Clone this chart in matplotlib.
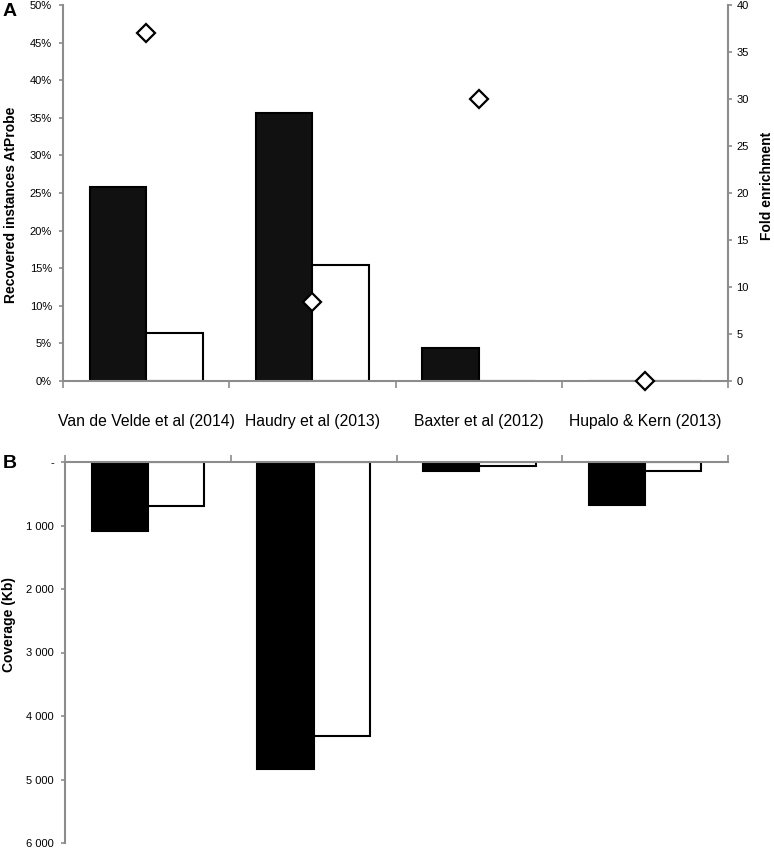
import numpy as np
import matplotlib
matplotlib.use("Agg")
import matplotlib.pyplot as plt
from matplotlib.ticker import FuncFormatter, MultipleLocator

plt.rcParams["font.family"] = ["Liberation Sans", "DejaVu Sans"]

studies = [
    "Van de Velde et al (2014)",
    "Haudry et al (2013)",
    "Baxter et al (2012)",
    "Hupalo & Kern (2013)",
]
# panel A: recovered instances (%), black and white series
recovered_black = [25.8, 35.6, 4.4, 0.0]
recovered_white = [6.4, 15.4, 0.0, 0.0]
fold_enrichment = [37.0, 8.4, 30.0, 0.0]
# panel B: coverage (Kb)
coverage_black = [1080, 4830, 140, 670]
coverage_white = [690, 4310, 60, 140]

GREY = "#8c8c8c"
W = 0.34
x = np.arange(len(studies))

fig = plt.figure(figsize=(7.74, 8.5), dpi=100)
W_FIG, H_FIG = 774.0, 850.0


def px_axes(left, top, right, bottom):
    return fig.add_axes([left / W_FIG, 1 - bottom / H_FIG,
                         (right - left) / W_FIG, (bottom - top) / H_FIG])


def style_spines(ax, keep):
    for name, sp in ax.spines.items():
        if name in keep:
            sp.set_color(GREY)
            sp.set_linewidth(1.5)
        else:
            sp.set_visible(False)


# ---- panel A ----
axA = px_axes(63, 5, 728, 381)
axA.bar(x - W / 2, recovered_black, W, color="#111111", edgecolor="black", linewidth=1.5)
axA.bar(x + W / 2, recovered_white, W, color="white", edgecolor="black", linewidth=1.5)
axA.set_xlim(-0.5, len(studies) - 0.5)
axA.set_ylim(0, 50)
axA.yaxis.set_major_locator(MultipleLocator(5))
axA.yaxis.set_major_formatter(FuncFormatter(lambda v, p: "{:d}%".format(int(round(v)))))
axA.set_xticks(x)
axA.set_xticklabels(studies, fontsize=11.3)
axA.set_xticks(np.arange(len(studies) + 1) - 0.5, minor=True)
axA.tick_params(axis="x", which="major", length=0, pad=24)
axA.tick_params(axis="x", which="minor", length=5, width=1.2, color=GREY, direction="out")
axA.tick_params(axis="y", length=3, width=1.2, color=GREY, labelsize=8, pad=5)
style_spines(axA, ["left", "bottom"])

axA2 = axA.twinx()
axA2.set_ylim(0, 40)
axA2.yaxis.set_major_locator(MultipleLocator(5))
axA2.plot(x, fold_enrichment, "D", ms=9, mfc="white", mec="black", mew=1.6,
          clip_on=False, zorder=5)
axA2.tick_params(axis="y", length=3, width=1.2, color=GREY, labelsize=8, pad=3)
style_spines(axA2, ["right"])

fig.text(11 / W_FIG, 1 - 205 / H_FIG, "Recovered instances AtProbe", fontsize=10,
         fontweight="bold", rotation=90, ha="center", va="center")
fig.text(767 / W_FIG, 1 - 186 / H_FIG, "Fold enrichment", fontsize=10,
         fontweight="bold", rotation=90, ha="center", va="center")
fig.text(3 / W_FIG, 1 - 12 / H_FIG, "A", fontsize=14, fontweight="bold", va="center")

# ---- panel B ----
axB = px_axes(65, 462, 728, 843)
axB.bar(x - W / 2, coverage_black, W, color="black", edgecolor="black", linewidth=1.5)
axB.bar(x + W / 2, coverage_white, W, color="white", edgecolor="black", linewidth=1.5)
axB.set_xlim(-0.5, len(studies) - 0.5)
axB.set_ylim(6000, 0)
axB.yaxis.set_major_locator(MultipleLocator(1000))


def cov_fmt(v, p):
    v = int(round(v))
    if v == 0:
        return "-"
    return "{:,}".format(v).replace(",", " ")


axB.yaxis.set_major_formatter(FuncFormatter(cov_fmt))
axB.set_xticks([])
axB.set_xticks(np.arange(len(studies) + 1) - 0.5, minor=True)
axB.xaxis.tick_top()
axB.tick_params(axis="x", which="minor", top=True, bottom=False, length=5, width=1.2,
                color=GREY, direction="out")
axB.tick_params(axis="y", length=3, width=1.2, color=GREY, labelsize=8, pad=5)
style_spines(axB, ["left", "top"])

fig.text(9 / W_FIG, 1 - 625 / H_FIG, "Coverage (Kb)", fontsize=10,
         fontweight="bold", rotation=90, ha="center", va="center")
fig.text(3 / W_FIG, 1 - 464 / H_FIG, "B", fontsize=14, fontweight="bold", va="center")

fig.savefig("out.png", dpi=100)
